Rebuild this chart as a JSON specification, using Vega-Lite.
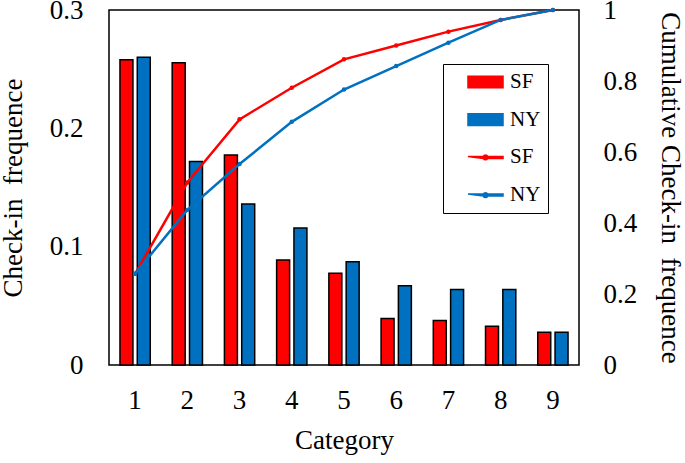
{
  "$schema": "https://vega.github.io/schema/vega-lite/v6.json",
  "width": 470,
  "height": 355,
  "autosize": {"type": "none"},
  "padding": {"left": 109, "top": 10, "right": 106, "bottom": 98},
  "config": {
    "font": "Liberation Serif",
    "view": {"stroke": "black", "strokeWidth": 1.5},
    "axis": {"grid": false, "ticks": false, "domain": false, "labelFontSize": 27, "titleFontSize": 27, "titleFontWeight": "normal", "labelColor": "black", "titleColor": "black", "labelFont": "Liberation Serif", "titleFont": "Liberation Serif"},
    "legend": {"labelFont": "Liberation Serif", "labelFontSize": 21, "labelColor": "black", "symbolOpacity": 1, "symbolStrokeWidth": 1.5}
  },
  "datasets": {
    "bars": [
      {"cat": 1, "city": "SF", "series": "SF bar", "freq": 0.258},
      {"cat": 1, "city": "NY", "series": "NY bar", "freq": 0.260},
      {"cat": 2, "city": "SF", "series": "SF bar", "freq": 0.2555},
      {"cat": 2, "city": "NY", "series": "NY bar", "freq": 0.172},
      {"cat": 3, "city": "SF", "series": "SF bar", "freq": 0.1775},
      {"cat": 3, "city": "NY", "series": "NY bar", "freq": 0.136},
      {"cat": 4, "city": "SF", "series": "SF bar", "freq": 0.0887},
      {"cat": 4, "city": "NY", "series": "NY bar", "freq": 0.1158},
      {"cat": 5, "city": "SF", "series": "SF bar", "freq": 0.0775},
      {"cat": 5, "city": "NY", "series": "NY bar", "freq": 0.0873},
      {"cat": 6, "city": "SF", "series": "SF bar", "freq": 0.0394},
      {"cat": 6, "city": "NY", "series": "NY bar", "freq": 0.067},
      {"cat": 7, "city": "SF", "series": "SF bar", "freq": 0.0377},
      {"cat": 7, "city": "NY", "series": "NY bar", "freq": 0.0637},
      {"cat": 8, "city": "SF", "series": "SF bar", "freq": 0.0327},
      {"cat": 8, "city": "NY", "series": "NY bar", "freq": 0.0637},
      {"cat": 9, "city": "SF", "series": "SF bar", "freq": 0.0276},
      {"cat": 9, "city": "NY", "series": "NY bar", "freq": 0.0276}
    ],
    "lines": [
      {"cat": 1, "city": "SF", "series": "SF line", "cum": 0.257},
      {"cat": 2, "city": "SF", "series": "SF line", "cum": 0.514},
      {"cat": 3, "city": "SF", "series": "SF line", "cum": 0.692},
      {"cat": 4, "city": "SF", "series": "SF line", "cum": 0.781},
      {"cat": 5, "city": "SF", "series": "SF line", "cum": 0.861},
      {"cat": 6, "city": "SF", "series": "SF line", "cum": 0.9},
      {"cat": 7, "city": "SF", "series": "SF line", "cum": 0.939},
      {"cat": 8, "city": "SF", "series": "SF line", "cum": 0.972},
      {"cat": 9, "city": "SF", "series": "SF line", "cum": 1.0},
      {"cat": 1, "city": "NY", "series": "NY line", "cum": 0.257},
      {"cat": 2, "city": "NY", "series": "NY line", "cum": 0.437},
      {"cat": 3, "city": "NY", "series": "NY line", "cum": 0.566},
      {"cat": 4, "city": "NY", "series": "NY line", "cum": 0.685},
      {"cat": 5, "city": "NY", "series": "NY line", "cum": 0.776},
      {"cat": 6, "city": "NY", "series": "NY line", "cum": 0.842},
      {"cat": 7, "city": "NY", "series": "NY line", "cum": 0.908},
      {"cat": 8, "city": "NY", "series": "NY line", "cum": 0.972},
      {"cat": 9, "city": "NY", "series": "NY line", "cum": 1.0}
    ]
  },
  "layer": [
    {
      "data": {"name": "bars"},
      "mark": {"type": "bar", "stroke": "black", "strokeWidth": 1.5, "fillOpacity": 1},
      "encoding": {
        "x": {
          "field": "cat", "type": "ordinal",
          "scale": {"paddingInner": 0.42, "paddingOuter": 0.21},
          "axis": {"labelAngle": 0, "labelPadding": 22, "title": "Category", "titlePadding": 14}
        },
        "xOffset": {"field": "series", "type": "nominal", "sort": ["SF bar", "NY bar"], "scale": {"paddingInner": 0.25}},
        "y": {
          "field": "freq", "type": "quantitative",
          "scale": {"domain": [0, 0.3], "nice": false},
          "axis": {"values": [0, 0.1, 0.2, 0.3], "format": "~g", "labelPadding": 26, "title": "Check-in\u00a0 frequence", "titlePadding": 22}
        },
        "color": {
          "field": "series", "type": "nominal",
          "scale": {"domain": ["SF bar", "NY bar", "SF line", "NY line"], "range": ["#ff0000", "#0070c0", "#ff0000", "#0070c0"]}
        }
      }
    },
    {
      "data": {"name": "lines"},
      "mark": {"type": "line", "strokeWidth": 2.5, "point": {"filled": true, "size": 20}},
      "encoding": {
        "x": {"field": "cat", "type": "ordinal"},
        "y": {
          "field": "cum", "type": "quantitative",
          "scale": {"domain": [0, 1], "nice": false},
          "axis": {"orient": "right", "values": [0, 0.2, 0.4, 0.6, 0.8, 1], "format": "~g", "labelPadding": 24, "title": "Cumulative Check-in\u00a0 frequence", "titlePadding": 19}
        },
        "color": {"field": "series", "type": "nominal"}
      }
    },
    {
      "data": {"name": "lines"},
      "mark": {"type": "point", "filled": true, "size": 0, "opacity": 1},
      "encoding": {
        "x": {"field": "cat", "type": "ordinal"},
        "y": {"field": "cum", "type": "quantitative", "scale": {"domain": [0, 1], "nice": false}, "axis": null},
        "color": {
          "field": "series", "type": "nominal",
          "scale": {"domain": ["SF bar", "NY bar", "SF line", "NY line"], "range": ["#ff0000", "#0070c0", "#ff0000", "#0070c0"]},
          "legend": {"title": null, "orient": "none", "legendX": 334, "legendY": 54, "padding": 7.5, "strokeColor": "black", "labelFontSize": 21, "labelFont": "Liberation Serif", "labelColor": "black", "symbolSize": 256, "symbolOffset": 24.5, "labelOffset": 14, "rowPadding": 15.7, "symbolStrokeWidth": 1.5, "symbolOpacity": 1, "labelExpr": "split(datum.label, ' ')[0] + '  '"}
        },
        "shape": {
          "field": "series", "type": "nominal",
          "scale": {"domain": ["SF bar", "NY bar", "SF line", "NY line"], "range": ["M-2.19,-0.73H2.19V0.73H-2.19Z", "M-2.19,-0.73H2.19V0.73H-2.19Z", "M-2.19,-0.125H-0.273A0.3,0.3 0 0 1 0.273,-0.125H2.19V0.125H0.273A0.3,0.3 0 0 1 -0.273,0.125Z", "M-2.19,-0.125H-0.273A0.3,0.3 0 0 1 0.273,-0.125H2.19V0.125H0.273A0.3,0.3 0 0 1 -0.273,0.125Z"]},
          "legend": {"title": null, "orient": "none", "legendX": 334, "legendY": 54, "padding": 7.5, "strokeColor": "black", "labelFontSize": 21, "labelFont": "Liberation Serif", "labelColor": "black", "symbolSize": 256, "symbolOffset": 24.5, "labelOffset": 14, "rowPadding": 15.7, "symbolStrokeWidth": 1.5, "symbolOpacity": 1, "labelExpr": "split(datum.label, ' ')[0] + '  '"}
        },
        "stroke": {
          "field": "series", "type": "nominal",
          "scale": {"domain": ["SF bar", "NY bar", "SF line", "NY line"], "range": ["black", "black", "transparent", "transparent"]},
          "legend": {"title": null, "orient": "none", "legendX": 334, "legendY": 54, "padding": 7.5, "strokeColor": "black", "labelFontSize": 21, "labelFont": "Liberation Serif", "labelColor": "black", "symbolSize": 256, "symbolOffset": 24.5, "labelOffset": 14, "rowPadding": 15.7, "symbolStrokeWidth": 1.5, "symbolOpacity": 1, "labelExpr": "split(datum.label, ' ')[0] + '  '"}
        }
      }
    }
  ],
  "resolve": {"scale": {"y": "independent"}}
}
